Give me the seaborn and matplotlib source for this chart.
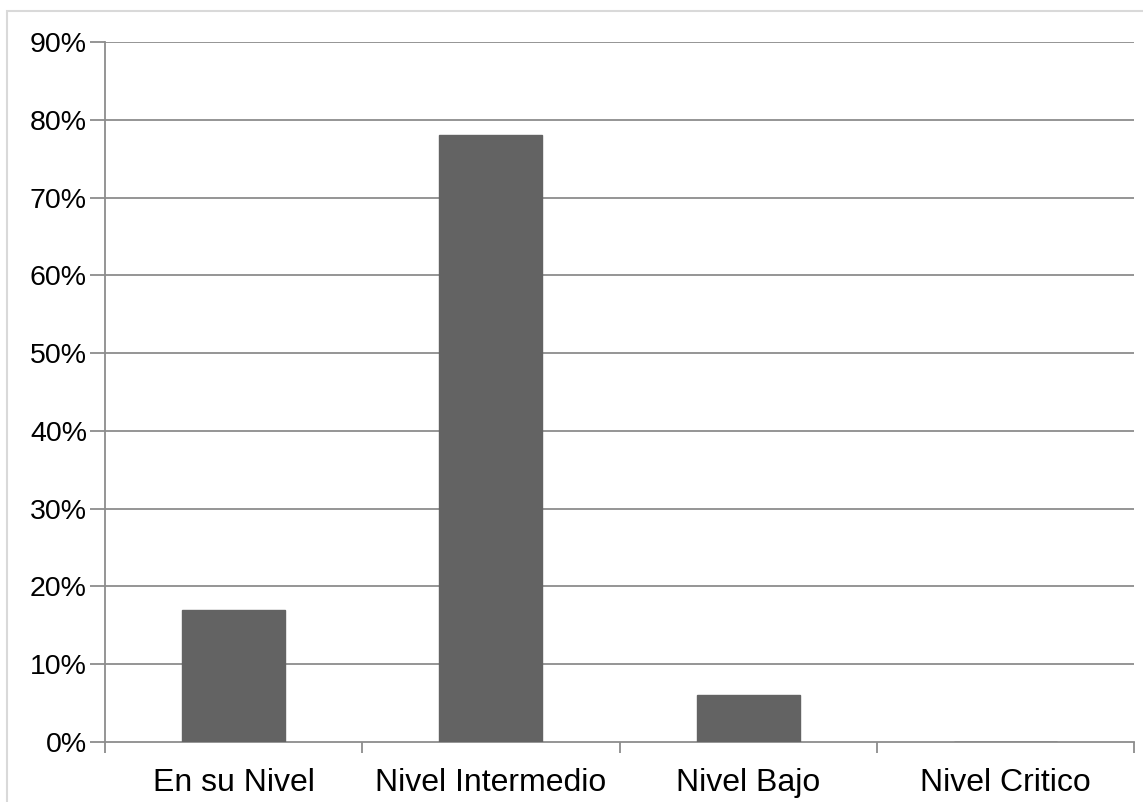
import matplotlib
matplotlib.use("Agg")
import matplotlib.pyplot as plt
from matplotlib.patches import Rectangle
from matplotlib.ticker import FuncFormatter
import seaborn as sns
import pandas as pd

categories = ["En su Nivel", "Nivel Intermedio", "Nivel Bajo", "Nivel Critico"]
shares = [0.17, 0.78, 0.06, 0.0]
y_ticks = [0.0, 0.1, 0.2, 0.3, 0.4, 0.5, 0.6, 0.7, 0.8, 0.9]

sns.set_style("white")
plt.rcParams["font.family"] = ["Liberation Sans", "DejaVu Sans"]

df = pd.DataFrame({"categoria": categories, "porcentaje": shares})

fig = plt.figure(figsize=(11.43, 8.02), dpi=100)
ax = fig.add_axes([105 / 1143, 1 - 742 / 802, (1134 - 105) / 1143, (742 - 42) / 802])

grid_color = "#8c8c8c"
bar_color = "#636363"
sns.barplot(data=df, x="categoria", y="porcentaje", color=bar_color,
            saturation=1, width=0.4, ax=ax, zorder=3,
            edgecolor=bar_color, linewidth=1)

ax.set_xlim(-0.5, len(categories) - 0.5)
ax.set_ylim(0, 0.9)
ax.set_yticks(y_ticks)
ax.yaxis.set_major_formatter(FuncFormatter(lambda v, _: f"{v * 100:.0f}%"))
ax.set_xlabel("")
ax.set_ylabel("")

# horizontal grid lines
for v in y_ticks[1:]:
    ax.axhline(v, color=grid_color, lw=1.3, zorder=1)

# category separators as minor ticks below the axis
ax.set_xticks([i - 0.5 for i in range(len(categories) + 1)], minor=True)
ax.tick_params(axis="x", which="major", length=0, pad=19, labelsize=23, labelcolor="black")
ax.tick_params(axis="x", which="minor", length=8, width=1.3, color=grid_color, bottom=True)
ax.tick_params(axis="y", which="major", length=11, width=1.3, color=grid_color, left=True,
               pad=2, labelsize=20.5, labelcolor="black")

for side in ["top", "right"]:
    ax.spines[side].set_visible(False)
for side in ["left", "bottom"]:
    ax.spines[side].set_color(grid_color)
    ax.spines[side].set_linewidth(1.3)
    ax.spines[side].set_zorder(2)

# light frame around the chart
fig.patches.append(Rectangle((7 / 1143, -0.05), 1.1, 1 - 11 / 802 + 0.05,
                             transform=fig.transFigure, fill=False,
                             edgecolor="#d9d9d9", lw=1.5, zorder=0))

fig.savefig("out.png", dpi=100, facecolor="white")
